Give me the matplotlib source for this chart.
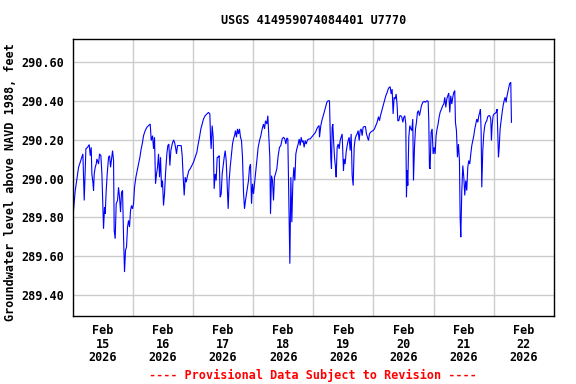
import numpy as np
import matplotlib
matplotlib.use("Agg")
import matplotlib.pyplot as plt
import matplotlib.dates as mdates

# ---- data (hours since 2026-02-15 00:00, level in feet) ----
hours = [
    0.15, 0.68, 1.08, 1.74, 2.41, 3.07, 3.73, 4.13, 4.66, 5.33, 5.99, 6.66, 7.06, 7.45, 7.72, 8.12,
    8.39, 8.65, 9.05, 9.45, 9.71, 10.38, 10.78, 11.31, 11.71, 12.11, 12.37, 12.77, 13.04, 13.44, 13.83,
    14.37, 14.76, 15.16, 15.56, 15.96, 16.36, 16.62, 17.02, 17.42, 17.95, 18.35, 18.75, 19.15, 19.55,
    19.95, 20.35, 20.74, 21.14, 21.54, 21.94, 22.34, 22.74, 23.14, 23.54, 23.93, 24.33, 24.73, 25.26,
    25.79, 26.33, 26.86, 27.39, 27.92, 28.32, 28.98, 29.65, 30.31, 30.98, 31.38, 31.91, 32.31, 32.70,
    33.10, 33.50, 33.90, 34.30, 34.70, 35.10, 35.49, 35.89, 36.29, 36.69, 37.09, 37.62, 38.02, 38.42,
    38.82, 39.22, 39.75, 40.28, 40.68, 41.08, 41.47, 41.87, 42.27, 42.94, 43.34, 43.73, 44.13, 44.53,
    44.93, 45.33, 45.86, 46.39, 46.92, 47.59, 48.25, 48.92, 49.58, 50.11, 50.64, 51.18, 51.71, 52.24,
    52.90, 53.57, 54.23, 54.76, 55.03, 55.29, 55.69, 56.09, 56.49, 56.89, 57.29, 57.69, 58.09, 58.49,
    58.88, 59.28, 59.68, 60.08, 60.48, 60.88, 61.28, 61.67, 62.07, 62.47, 62.87, 63.40, 63.80, 64.20,
    64.60, 64.99, 65.39, 65.79, 66.19, 66.59, 66.99, 67.39, 67.79, 68.19, 68.58, 68.98, 69.38, 69.78,
    70.18, 70.58, 70.98, 71.38, 71.77, 72.17, 72.57, 72.97, 73.50, 74.03, 74.57, 75.10, 75.63, 76.16,
    76.56, 76.96, 77.49, 77.89, 78.29, 78.68, 78.95, 79.35, 79.75, 80.15, 80.54, 80.94, 81.47, 82.01,
    82.54, 83.07, 83.60, 84.13, 84.66, 85.06, 85.46, 85.86, 86.26, 86.66, 87.06, 87.45, 87.85, 88.25,
    88.65, 89.05, 89.45, 89.98, 90.38, 90.78, 91.18, 91.58, 91.97, 92.37, 92.77, 93.17, 93.70, 94.23,
    94.76, 95.30, 95.83, 96.36, 96.89, 97.42, 97.95, 98.35, 98.48,
    99.02, 99.41, 99.81, 100.35, 100.88, 101.41, 101.94, 102.47, 102.74, 103.00, 103.27, 103.53, 103.80,
    104.07, 104.47, 104.86, 105.13, 105.53, 105.93, 106.33, 106.72, 107.12, 107.52, 107.79, 108.05,
    108.32, 108.72, 109.11, 109.51, 109.91, 110.31, 110.71, 111.11, 111.51, 111.91, 112.31, 112.70,
    113.10, 113.50, 113.90, 114.30, 114.70, 115.10, 115.49, 115.89, 116.29, 116.82, 117.22, 117.62,
    118.02, 118.42, 118.82, 119.35, 119.88, 120.41, 120.94, 121.47, 122.01, 122.40, 122.80, 123.33,
    123.87, 124.40, 124.93, 125.46, 125.86, 126.26, 126.66, 127.06, 127.45, 127.85, 128.25, 128.65,
    129.05, 129.45, 129.71, 130.11, 130.51, 130.91, 131.31, 131.71, 132.11, 132.50, 132.90, 133.17,
    133.43, 133.70, 134.10, 134.50, 134.90, 135.29, 135.69, 135.96, 136.36, 136.76, 137.15, 137.55,
    137.95, 138.35, 138.75, 139.15, 139.68, 140.21, 140.74, 141.27, 141.81, 142.07, 142.34, 142.60,
    143.00, 143.40, 143.80, 144.20, 144.60, 144.99, 145.39, 145.79, 146.19, 146.59, 147.12, 147.65,
    148.05, 148.45, 148.85, 149.25, 149.65, 150.05, 150.44, 150.84, 151.24, 151.64, 152.04, 152.44,
    152.70, 153.10, 153.50, 153.90, 154.30, 154.56, 154.83, 155.23, 155.63, 156.03, 156.42, 156.82,
    157.22, 157.62, 158.02, 158.42, 158.82, 159.22, 159.61, 160.01, 160.41, 160.81, 161.21, 161.61,
    162.01, 162.40, 162.67, 162.93, 163.20, 163.60, 164.00, 164.40, 164.80, 165.19, 165.59, 165.99,
    166.39, 166.79, 167.05, 167.32, 167.72, 168.12, 168.52, 168.91, 169.31, 169.58, 169.85, 170.11,
    170.51, 170.91, 171.31, 171.71, 172.11, 172.50, 172.90, 173.17, 173.57, 173.97, 174.37, 174.76,
    175.03,
]

level = [
    289.801, 289.878, 289.938, 289.998, 290.058, 290.084, 290.110, 290.127, 289.887, 290.153, 290.161,
    290.175, 290.118, 290.161, 290.024, 289.981, 289.938, 290.024, 290.058, 290.075, 290.101, 290.075,
    290.127, 290.118, 290.024, 289.853, 289.741, 289.853, 289.818, 289.938, 290.024, 290.110, 290.118,
    290.058, 290.101, 290.144, 290.093, 289.732, 289.690, 289.870, 289.887, 289.955, 289.904, 289.827,
    289.930, 289.938, 289.698, 289.518, 289.630, 289.647, 289.750, 289.784, 289.750, 289.835, 289.861,
    289.844, 289.870, 289.955, 290.007, 290.041, 290.075, 290.110, 290.153, 290.187, 290.221, 290.247,
    290.264, 290.273, 290.281, 290.196, 290.221, 290.153, 290.213, 289.973, 290.024, 290.058, 290.127,
    290.007, 290.110, 289.955, 289.990, 289.861, 289.921, 290.024, 290.127, 290.170, 290.178, 290.067,
    290.144, 290.178, 290.199, 290.187, 290.161, 290.127, 290.170, 290.170, 290.170, 290.170, 290.118,
    290.007, 289.913, 290.007, 289.981, 290.015, 290.041, 290.050, 290.067, 290.084, 290.110, 290.136,
    290.178, 290.213, 290.256, 290.281, 290.307, 290.324, 290.333, 290.341, 290.333, 290.213, 290.153,
    290.273, 290.213, 289.947, 290.024, 289.990, 290.110, 290.110, 290.118, 289.904, 289.921, 290.024,
    290.067, 290.110, 290.144, 290.093, 289.973, 289.844, 289.990, 290.058, 290.127, 290.178, 290.204,
    290.221, 290.247, 290.213, 290.256, 290.230, 290.256, 290.213, 290.196, 290.110, 289.930, 289.844,
    289.887, 289.921, 289.955, 289.990, 290.058, 290.075, 289.870, 289.973, 289.921, 289.973, 290.024,
    290.093, 290.161, 290.196, 290.221, 290.256, 290.281, 290.256, 290.298, 290.281, 290.324, 290.213,
    290.110, 289.818, 290.015, 289.990, 289.887, 290.007, 290.024, 290.050, 290.118, 290.161, 290.170,
    290.204, 290.213, 290.204, 290.178, 290.209, 290.204, 289.887, 289.561, 290.007, 289.775, 289.973,
    290.058, 289.990, 290.127, 290.153, 290.178, 290.204, 290.170, 290.213, 290.187, 290.196, 290.161,
    290.196, 290.178, 290.199, 290.204, 290.204, 290.213, 290.221, 290.230, 290.238, 290.256, 290.268,
    290.273, 290.213,
    290.273, 290.298, 290.316, 290.341, 290.367, 290.393, 290.401, 290.401, 290.247, 290.101, 290.050,
    290.264, 290.281, 290.204, 290.110, 290.058, 290.007, 290.161, 290.178, 290.153, 290.196, 290.213,
    290.230, 290.127, 290.041, 290.101, 290.075, 290.136, 290.170, 290.196, 290.213, 290.144, 290.230,
    290.015, 289.964, 290.161, 290.204, 290.221, 290.230, 290.247, 290.196, 290.247, 290.256, 290.221,
    290.264, 290.268, 290.268, 290.230, 290.213, 290.196, 290.230, 290.238, 290.244, 290.247, 290.256,
    290.273, 290.290, 290.319, 290.298, 290.324, 290.350, 290.376, 290.401, 290.427, 290.444, 290.461,
    290.470, 290.473, 290.436, 290.461, 290.333, 290.419, 290.410, 290.436, 290.376, 290.298, 290.298,
    290.324, 290.324, 290.316, 290.290, 290.316, 290.324, 290.281, 289.904, 290.041, 289.964, 290.213,
    290.273, 290.256, 290.247, 290.307, 289.990, 290.161, 290.256, 290.290, 290.341, 290.350, 290.324,
    290.350, 290.376, 290.393, 290.398, 290.393, 290.401, 290.398, 290.298, 290.058, 290.050, 290.238,
    290.256, 290.127, 290.161, 290.127, 290.221, 290.256, 290.281, 290.316, 290.341, 290.358, 290.376,
    290.384, 290.419, 290.367, 290.410, 290.427, 290.441, 290.341, 290.427, 290.384, 290.419, 290.444,
    290.453, 290.290, 290.247, 290.110, 290.178, 290.093, 289.801, 289.698, 289.938, 290.067, 290.007,
    289.913, 289.990, 289.938, 290.058, 290.093, 290.075, 290.127, 290.170, 290.196, 290.221, 290.256,
    290.281, 290.307, 290.290, 290.324, 290.341, 290.358, 290.247, 289.955, 290.144, 290.230, 290.273,
    290.290, 290.298, 290.319, 290.324, 290.324, 290.307, 290.196, 290.273, 290.324, 290.333, 290.336,
    290.341, 290.358, 290.230, 290.110, 290.153, 290.256, 290.298, 290.341, 290.376, 290.401, 290.419,
    290.393, 290.419, 290.444, 290.470, 290.491, 290.496, 290.290,
]

start_date = "2026-02-15"
day_labels = ["Feb\n15\n2026", "Feb\n16\n2026", "Feb\n17\n2026", "Feb\n18\n2026",
              "Feb\n19\n2026", "Feb\n20\n2026", "Feb\n21\n2026", "Feb\n22\n2026"]
y_ticks = [289.40, 289.60, 289.80, 290.00, 290.20, 290.40, 290.60]

title = "USGS 414959074084401 U7770"
ylabel = "Groundwater level above NAVD 1988, feet"
footer = "---- Provisional Data Subject to Revision ----"

# ---- build ----
base = np.datetime64(start_date + "T00:00")
times = base + (np.array(hours) * 60).round().astype("timedelta64[m]")
t_num = mdates.date2num(times.astype("datetime64[s]").astype(object))

FONT = "DejaVu Sans Mono"
FS = 8.5

fig = plt.figure(figsize=(5.76, 3.84), dpi=100)
ax = fig.add_axes([0.1259, 0.1779, 0.8359, 0.7198])

ax.plot(t_num, level, color="#0000ff", lw=0.8, solid_joinstyle="miter")

x0 = mdates.date2num(base.astype("datetime64[s]").astype(object))
ax.set_xlim(x0, x0 + 8)
ax.set_ylim(289.293, 290.718)

# grid at midnights (major), labels at noon (minor)
ax.set_xticks([x0 + i for i in range(1, 8)])
ax.set_xticklabels([])
ax.set_xticks([x0 + i + 0.5 for i in range(8)], minor=True)
ax.set_xticklabels(day_labels, minor=True, fontfamily=FONT, fontweight="bold",
                   fontsize=FS, linespacing=1.05)
ax.tick_params(axis="x", which="both", length=0, pad=6)

ax.set_yticks(y_ticks)
ax.set_yticklabels([f"{v:.2f}" for v in y_ticks], fontfamily=FONT,
                   fontweight="bold", fontsize=FS)
ax.tick_params(axis="y", length=0, pad=6)

ax.grid(True, which="major", color="#cccccc", lw=1.0)
ax.set_axisbelow(True)
for s in ax.spines.values():
    s.set_color("black")
    s.set_linewidth(1.0)

cx = 0.1259 + 0.8359 / 2
fig.text(cx, 1 - 20 / 384, title, ha="center", va="center",
         fontfamily=FONT, fontweight="bold", fontsize=FS)
fig.text(11 / 576, 1 - 182 / 384, ylabel, ha="center", va="center", rotation=90,
         fontfamily=FONT, fontweight="bold", fontsize=FS)
fig.text(cx, 1 - 375 / 384, footer, ha="center", va="center", color="#ff0000",
         fontfamily=FONT, fontweight="bold", fontsize=FS)

fig.savefig("out.png", dpi=100)
